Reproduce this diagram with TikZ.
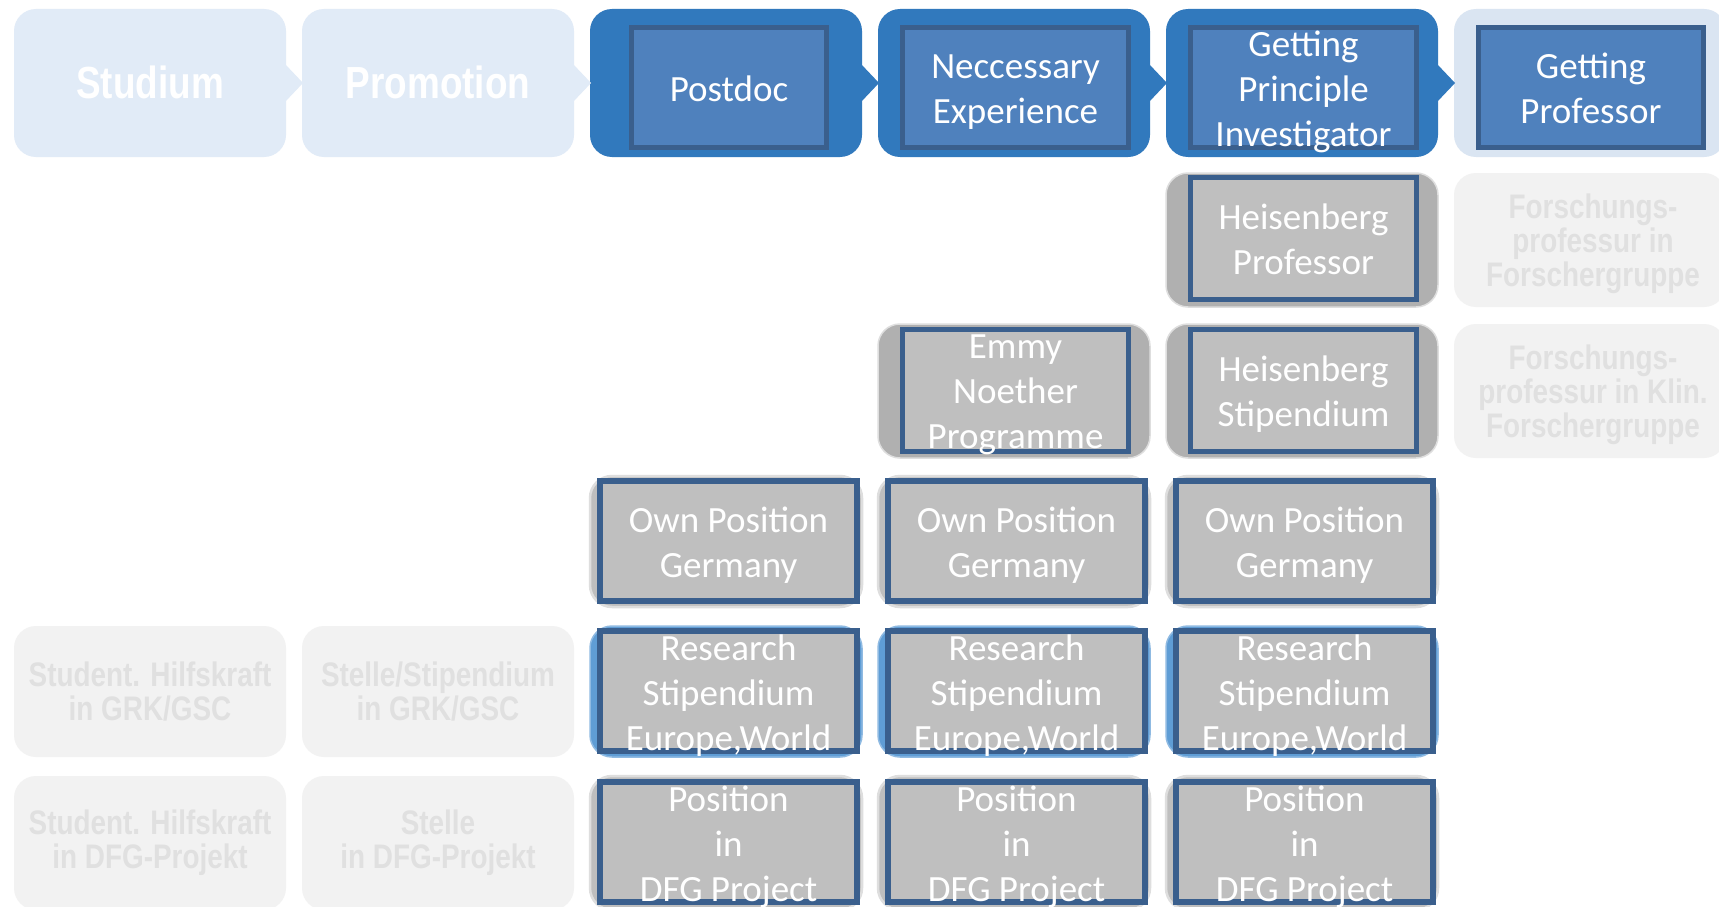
\documentclass[tikz,border=0pt]{standalone}
\usepackage{fontspec}
\setmainfont{Carlito}
\newfontfamily\narrowfont[FakeStretch=0.82]{Liberation Sans}
\definecolor{hdrblue}{RGB}{49,121,189}
\definecolor{innerblue}{RGB}{79,129,189}
\definecolor{darkborder}{RGB}{58,95,141}
\definecolor{fadeblue}{RGB}{225,235,247}
\definecolor{fadeblue2}{RGB}{218,229,242}
\definecolor{grayfill}{RGB}{191,191,191}
\definecolor{grayouter}{RGB}{176,176,176}
\definecolor{lightgrayouter}{RGB}{190,190,190}
\definecolor{resblue}{RGB}{95,157,213}
\definecolor{fadegray}{RGB}{242,242,242}
\definecolor{fadetext}{RGB}{224,224,224}
\definecolor{halo}{RGB}{222,222,222}
\begin{document}
\begin{tikzpicture}[x=1pt,y=-1pt,
  outerbox/.style={rounded corners=22pt, minimum width=272pt, inner sep=0pt, outer sep=0pt},
  hdrbox/.style={outerbox, minimum height=148pt},
  cellbox/.style={outerbox, minimum height=134pt},
  fadehdr/.style={hdrbox, fill=fadeblue, text=white, font=\narrowfont\bfseries\fontsize{45}{50}\selectfont},
  activehdr/.style={hdrbox, fill=hdrblue},
  fadecell/.style={cellbox, fill=fadegray, text=fadetext, align=center, font=\narrowfont\bfseries\fontsize{34}{34}\selectfont},
  fadetxt/.style={text=fadetext, align=center, inner sep=0pt, font=\narrowfont\bfseries\fontsize{34}{34}\selectfont},
  graycell/.style={cellbox, fill=grayouter, draw=halo, line width=1.5pt},
  plaincell/.style={cellbox, fill=lightgrayouter, draw=halo, line width=2.5pt},
  bluecell/.style={cellbox, fill=resblue, draw=resblue!70!white, line width=1.5pt},
  innerhdr/.style={rectangle, draw=darkborder, line width=5pt, fill=innerblue, inner sep=0pt, minimum height=120pt},
  innergray/.style={rectangle, draw=darkborder, line width=5pt, fill=grayfill, inner sep=0pt, minimum width=226pt, minimum height=122pt},
  innerwide/.style={rectangle, draw=darkborder, line width=6pt, fill=grayfill, inner sep=0pt, minimum width=257pt, minimum height=120pt},
  lab/.style={text=white, align=center, inner sep=0pt, yshift=-4.5pt, font=\fontsize{37}{45}\selectfont},
  nodesc/.style={yshift=3.5pt}
]
\path[use as bounding box] (0,0) rectangle (1719,907);
\clip (0,0) rectangle (1719,907);
\fill[white] (0,0) rectangle (1719,907);

% ---------- header row ----------
\node[fadehdr] (h0) at (150,83) {\raisebox{2pt}{Studium}};
\node[fadehdr] (h1) at (438,83) {\raisebox{2pt}{Promotion}};
\node[activehdr] (h2) at (726,83) {};
\node[activehdr] (h3) at (1014,83) {};
\node[activehdr] (h4) at (1302,83) {};
\node[hdrbox, fill=fadeblue2] (h5) at (1590,83) {};

\fill[fadeblue] (h0.east) ++(-1,-19) -- ++(18,19) -- ++(-18,19) -- cycle;
\fill[fadeblue] (h1.east) ++(-1,-19) -- ++(18,19) -- ++(-18,19) -- cycle;
\fill[hdrblue] (h2.east) ++(-1,-19) -- ++(18,19) -- ++(-18,19) -- cycle;
\fill[hdrblue] (h3.east) ++(-1,-19) -- ++(18,19) -- ++(-18,19) -- cycle;
\fill[hdrblue] (h4.east) ++(-1,-19) -- ++(18,19) -- ++(-18,19) -- cycle;

\node[innerhdr, minimum width=195pt] (h2i) at (729,87.5) {};
\node[innerhdr, minimum width=226pt] (h3i) at (1015.5,87.5) {};
\node[innerhdr, minimum width=226pt] (h4i) at (1303.5,87.5) {};
\node[innerhdr, minimum width=225pt] (h5i) at (1591,87.5) {};
\node[lab, nodesc] (h2t) at (h2i) {Postdoc};
\node[lab] (h3t) at (h3i) {Neccessary\\Experience};
\node[lab] (h4t) at (h4i) {Getting\\Principle\\Investigator};
\node[lab, nodesc] (h5t) at (h5i) {Getting\\Professor};

% ---------- row 1 ----------
\node[graycell] (r1c4) at (1302,240) {};
\node[innergray] (r1c4i) at (1303.5,238.5) {};
\node[lab, nodesc] (r1c4t) at (r1c4i) {Heisenberg\\Professor};
\node[cellbox, fill=fadegray] (r1c5) at (1590,240) {};
\node[fadetxt] (r1c5t) at ([xshift=3pt,yshift=-4pt]r1c5.center) {Forschungs-\\professur in\\Forschergruppe};

% ---------- row 2 ----------
\node[graycell] (r2c3) at (1014,391) {};
\node[innergray] (r2c3i) at (1015.5,390) {};
\node[lab] (r2c3t) at (r2c3i) {Emmy\\Noether\\Programme};
\node[graycell] (r2c4) at (1302,391) {};
\node[innergray] (r2c4i) at (1303.5,390) {};
\node[lab] (r2c4t) at (r2c4i) {Heisenberg\\Stipendium};
\node[cellbox, fill=fadegray] (r2c5) at (1590,391) {};
\node[fadetxt] (r2c5t) at ([xshift=3pt,yshift=-4pt]r2c5.center) {Forschungs-\\professur in Klin.\\Forschergruppe};

% ---------- rows 3 to 5 ----------
\foreach \c/\x in {2/726,3/1014,4/1302} {
  \node[plaincell, minimum height=131pt] (r3c\c) at (\x,541.5) {};
  \node[innerwide] (r3c\c i) at (\x+2.5,541) {};
  \node[lab] (r3c\c t) at (r3c\c i) {Own Position\\Germany};
  \node[bluecell, minimum height=131pt] (r4c\c) at (\x,691.5) {};
  \node[innerwide] (r4c\c i) at (\x+2.5,691) {};
  \node[lab] (r4c\c t) at (r4c\c i) {Research\\Stipendium\\Europe,World};
  \node[plaincell] (r5c\c) at (\x,843) {};
  \node[innerwide] (r5c\c i) at (\x+2.5,842) {};
  \node[lab] (r5c\c t) at (r5c\c i) {Position\\in\\DFG Project};
}

\node[fadecell, minimum height=131pt] (r4c0) at (150,691.5) {Student. Hilfskraft\\in GRK/GSC};
\node[fadecell, minimum height=131pt] (r4c1) at (438,691.5) {Stelle/Stipendium\\in GRK/GSC};
\node[fadecell] (r5c0) at (150,843) {Student. Hilfskraft\\in DFG-Projekt};
\node[fadecell] (r5c1) at (438,843) {Stelle\\in DFG-Projekt};
\end{tikzpicture}
\end{document}
